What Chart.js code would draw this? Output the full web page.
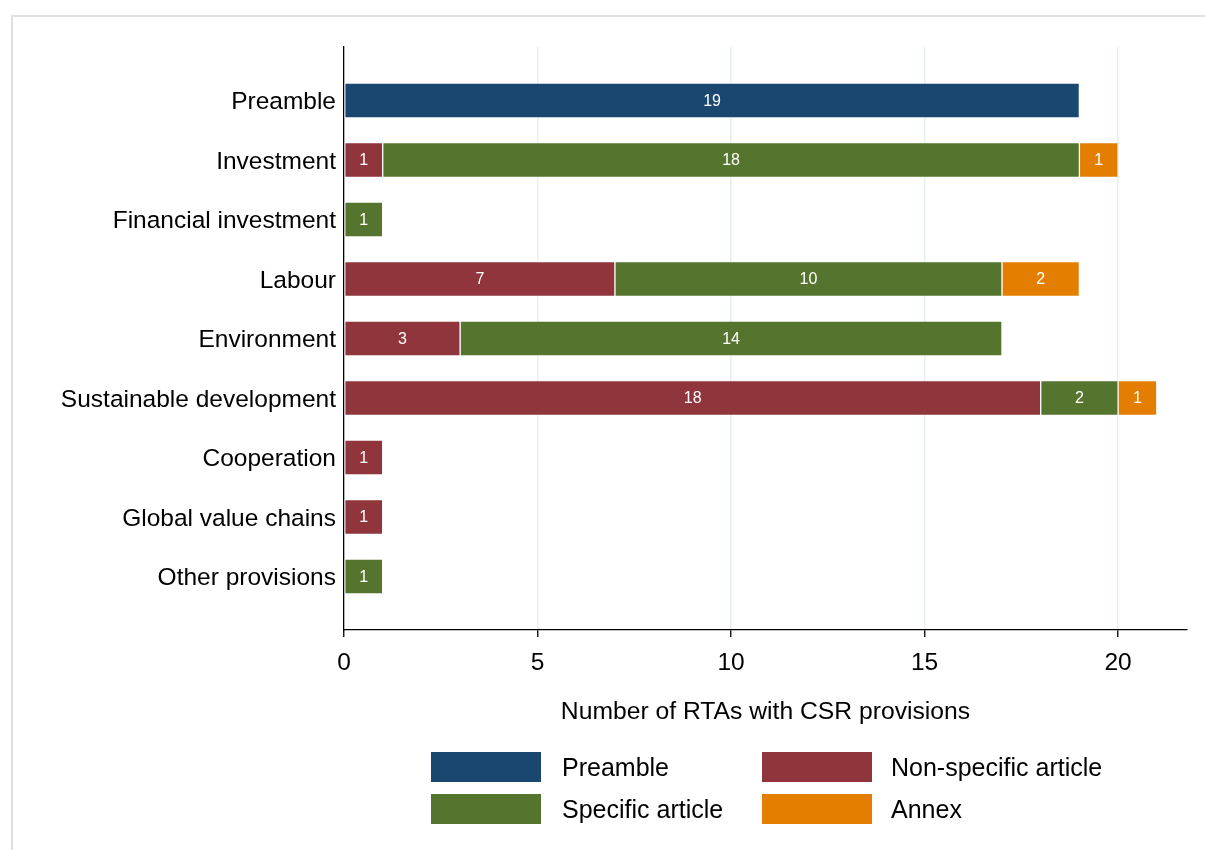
<!DOCTYPE html>
<html>
<head>
<meta charset="utf-8">
<script src="https://cdn.jsdelivr.net/npm/chart.js@4/dist/chart.umd.min.js"></script>
<style>
  html, body { margin: 0; padding: 0; background: #fff; }
  #wrap { position: relative; width: 1205px; height: 850px; overflow: hidden; background: #fff; }
  #frame { position: absolute; left: 11px; top: 15px; width: 1300px; height: 900px; border: 2px solid #e0e0e0; box-sizing: border-box; }
  #cv { position: absolute; left: 0; top: 0; width: 1205px; height: 850px; }
  .lg-box { position: absolute; width: 110px; height: 30px; }
  .lg-txt { position: absolute; font-family: "Liberation Sans", Arial, sans-serif; font-size: 25px; color: #000; line-height: 30px; white-space: nowrap; }
</style>
</head>
<body>
<div id="wrap">
  <div id="frame"></div>
  <canvas id="cv" width="1205" height="850"></canvas>
  <div id="legend"></div>
</div>
<script>
const categories = ['Preamble', 'Investment', 'Financial investment', 'Labour', 'Environment', 'Sustainable development', 'Cooperation', 'Global value chains', 'Other provisions'];
const seriesNames = ['Preamble', 'Non-specific article', 'Specific article', 'Annex'];
const preamble    = [19, 0, 0, 0, 0, 0, 0, 0, 0];
const nonSpecific = [0, 1, 0, 7, 3, 18, 1, 1, 0];
const specific    = [0, 18, 1, 10, 14, 2, 0, 0, 1];
const annex       = [0, 1, 0, 2, 0, 1, 0, 0, 0];
const xTickValues = [0, 5, 10, 15, 20];
const axisTitle = 'Number of RTAs with CSR provisions';

const colors = ['#1a476f', '#90353b', '#55752f', '#e37e00'];
const allSeries = [preamble, nonSpecific, specific, annex];
const FONT = '"Liberation Sans", Arial, sans-serif';

const datasets = allSeries.map((vals, k) => ({
  label: seriesNames[k],
  data: vals.map((v, i) => v ? { x: v, y: i } : null).filter(Boolean),
  backgroundColor: colors[k],
  borderColor: 'rgba(255,255,255,0.45)',
  borderWidth: 1,
  borderSkipped: false,
  barThickness: 35
}));

const labelPlugin = {
  id: 'segLabels',
  afterDatasetsDraw(chart) {
    const ctx = chart.ctx;
    ctx.save();
    ctx.font = '16px ' + FONT;
    ctx.fillStyle = '#ffffff';
    ctx.textAlign = 'center';
    ctx.textBaseline = 'middle';
    chart.data.datasets.forEach((ds, di) => {
      const meta = chart.getDatasetMeta(di);
      meta.data.forEach((el, j) => {
        const c = el.getCenterPoint();
        ctx.fillText(String(ds.data[j].x), c.x, c.y + 1);
      });
    });
    ctx.restore();
  }
};

new Chart(document.getElementById('cv'), {
  type: 'bar',
  data: { datasets },
  plugins: [labelPlugin],
  options: {
    indexAxis: 'y',
    responsive: false,
    animation: false,
    layout: { padding: { top: 47, right: 18, bottom: 123, left: 0 } },
    plugins: { legend: { display: false }, tooltip: { enabled: false } },
    scales: {
      x: {
        type: 'linear',
        stacked: true,
        min: 0,
        max: 21.78,
        afterBuildTicks: s => { s.ticks = xTickValues.map(v => ({ value: v })); },
        afterFit: s => { s.height = 97; },
        ticks: { color: '#000', font: { family: FONT, size: 24.5 }, padding: 12, maxRotation: 0 },
        grid: {
          color: c => (c.tick && c.tick.value === 0) ? 'rgba(0,0,0,0)' : '#e6eff1',
          lineWidth: 1.5,
          tickColor: '#000',
          tickLength: 7,
          tickWidth: 1.3
        },
        border: { display: true, color: '#000', width: 1.3 },
        title: { display: true, text: axisTitle, color: '#000', font: { family: FONT, size: 24.7 }, padding: 0 }
      },
      y: {
        type: 'linear',
        stacked: true,
        reverse: true,
        offset: false,
        min: -0.9,
        max: 8.9,
        afterBuildTicks: s => { s.ticks = categories.map((c, i) => ({ value: i })); },
        afterFit: s => { s.width = 344; },
        ticks: { color: '#000', font: { family: FONT, size: 24.5 }, padding: 8, labelOffset: 2, callback: v => categories[v] },
        grid: { display: false, drawTicks: false },
        border: { display: true, color: '#000', width: 1.3 }
      }
    }
  }
});

// legend (HTML)
const legendPos = [
  { bx: 431, by: 752, tx: 562 },
  { bx: 762, by: 752, tx: 891 },
  { bx: 431, by: 794, tx: 562 },
  { bx: 762, by: 794, tx: 891 }
];
const legendOrder = [0, 1, 2, 3];
const lg = document.getElementById('legend');
legendOrder.forEach((k, n) => {
  const p = legendPos[n];
  const b = document.createElement('div');
  b.className = 'lg-box';
  b.style.left = p.bx + 'px'; b.style.top = p.by + 'px'; b.style.background = colors[k];
  const t = document.createElement('div');
  t.className = 'lg-txt';
  t.style.left = p.tx + 'px'; t.style.top = (p.by) + 'px';
  t.textContent = seriesNames[k];
  lg.appendChild(b); lg.appendChild(t);
});
</script>
</body>
</html>
